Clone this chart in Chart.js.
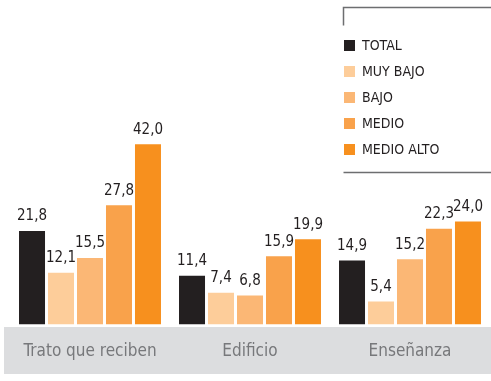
<!DOCTYPE html>
<html>
<head>
<meta charset="utf-8">
<script src="https://cdn.jsdelivr.net/npm/chart.js@4"></script>
<style>
  html, body { margin: 0; padding: 0; background: #fff; }
  #wrap { width: 491px; height: 381px; }
</style>
</head>
<body>
<div id="wrap"><canvas id="chart"></canvas></div>
<script>
const FONT = '"Liberation Sans Narrow", "DejaVu Sans Condensed", "Liberation Sans", sans-serif';

const categories = ["Trato que reciben", "Edificio", "Enseñanza"];
const seriesNames = ["TOTAL", "MUY BAJO", "BAJO", "MEDIO", "MEDIO ALTO"];
const seriesColors = ["#231f20", "#fdcd9a", "#fbb775", "#f9a24b", "#f7901e"];

const total = [21.8, 11.4, 14.9];
const muyBajo = [12.1, 7.4, 5.4];
const bajo = [15.5, 6.8, 15.2];
const medio = [27.8, 15.9, 22.3];
const medioAlto = [42.0, 19.9, 24.0];

const seriesValues = [total, muyBajo, bajo, medio, medioAlto];

// grey strip behind the category names
const bandPlugin = {
  id: "band",
  beforeDraw(chart) {
    const ctx = chart.ctx;
    ctx.save();
    ctx.fillStyle = "#dcdddf";
    ctx.fillRect(4, 327, chart.width - 4, 47);
    ctx.restore();
  }
};

// value written above each bar, decimal comma
const valueLabels = {
  id: "valueLabels",
  afterDatasetsDraw(chart) {
    const ctx = chart.ctx;
    ctx.save();
    ctx.font = "15px " + FONT;
    ctx.fillStyle = "#231f20";
    ctx.textAlign = "center";
    ctx.textBaseline = "bottom";
    chart.data.datasets.forEach((ds, i) => {
      chart.getDatasetMeta(i).data.forEach((bar, j) => {
        const txt = ds.data[j].toFixed(1).replace(".", ",");
        ctx.fillText(txt, bar.x, bar.y - 7);
      });
    });
    ctx.restore();
  }
};

// boxed legend in the top right corner
const sideLegend = {
  id: "sideLegend",
  afterDraw(chart) {
    const ctx = chart.ctx;
    const x0 = 343.5;
    ctx.save();
    ctx.strokeStyle = "#6d6e70";
    ctx.lineWidth = 1.5;
    ctx.beginPath();
    ctx.moveTo(x0, 25.5);
    ctx.lineTo(x0, 7.5);
    ctx.lineTo(chart.width, 7.5);
    ctx.moveTo(x0, 172.5);
    ctx.lineTo(chart.width, 172.5);
    ctx.stroke();

    ctx.font = "14px " + FONT;
    ctx.textBaseline = "middle";
    chart.data.datasets.forEach((ds, i) => {
      const y = 40 + i * 26;
      ctx.fillStyle = ds.backgroundColor;
      ctx.fillRect(344, y, 11, 11);
      ctx.fillStyle = "#231f20";
      ctx.fillText(ds.label, 362, y + 6);
    });
    ctx.restore();
  }
};

new Chart(document.getElementById("chart"), {
  type: "bar",
  data: {
    labels: categories,
    datasets: seriesNames.map((name, i) => ({
      label: name,
      data: seriesValues[i],
      backgroundColor: seriesColors[i],
      borderWidth: 0,
      categoryPercentage: 0.906,
      barPercentage: 0.897
    }))
  },
  options: {
    responsive: true,
    maintainAspectRatio: false,
    animation: false,
    layout: { padding: { left: 10, right: 1, top: 0, bottom: 2 } },
    plugins: {
      legend: { display: false },
      tooltip: { enabled: false }
    },
    scales: {
      x: {
        grid: { display: false, drawTicks: false },
        border: { display: false },
        ticks: {
          padding: 17,
          minRotation: 0,
          maxRotation: 0,
          autoSkip: false,
          color: "#77787b",
          font: { family: FONT, size: 17 }
        }
      },
      y: {
        display: false,
        min: 0,
        max: 75.6
      }
    }
  },
  plugins: [bandPlugin, valueLabels, sideLegend]
});
</script>
</body>
</html>
